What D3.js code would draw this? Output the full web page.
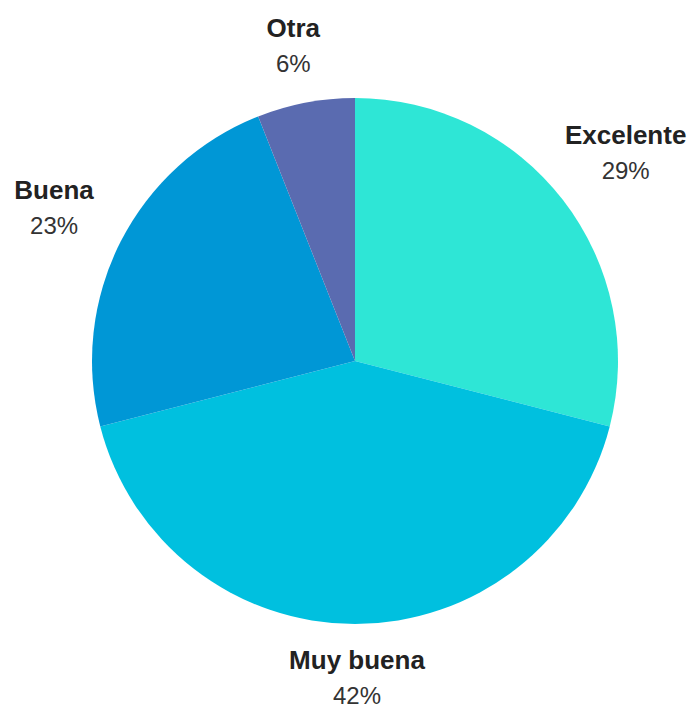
<!DOCTYPE html>
<html>
<head>
<meta charset="utf-8">
<script src="https://cdn.jsdelivr.net/npm/d3@7"></script>
<style>
  html, body { margin: 0; padding: 0; background: #ffffff; }
  svg { display: block; }
</style>
</head>
<body>
<svg id="chart" width="690" height="707"></svg>
<script>
// Rating distribution
const categories = ["Excelente", "Muy buena", "Buena", "Otra"];
const values = [29, 42, 23, 6];
const colors = ["#2ee6d6", "#00c0df", "#0097d6", "#5a6bb0"];

const width = 690, height = 707;
const cx = 355, cy = 361, radius = 263;

const svg = d3.select("#chart");
const g = svg.append("g").attr("transform", `translate(${cx},${cy})`);

const data = categories.map((c, i) => ({ name: c, value: values[i] }));

const pie = d3.pie().sort(null).value(d => d.value);
const arc = d3.arc().innerRadius(0).outerRadius(radius);
const color = d3.scaleOrdinal().domain(categories).range(colors);

const arcs = pie(data);

g.selectAll("path.slice")
  .data(arcs)
  .join("path")
  .attr("class", "slice")
  .attr("d", arc)
  .attr("fill", d => color(d.data.name));

// Labels outside the pie: name (bold) above the percentage
const labelRadius = 320;
const total = d3.sum(values);
const labels = g.selectAll("g.label")
  .data(arcs)
  .join("g")
  .attr("class", "label")
  .attr("transform", d => {
    const a = (d.startAngle + d.endAngle) / 2;
    const s = Math.sin(a), c = Math.cos(a);
    const x = s * (labelRadius + 20) + 2;
    const y = -c * labelRadius - Math.abs(s) * 8 - 7 - Math.max(0, c * s) * 10 + (c > 0.9 ? 2 : 0) - (c < -0.9 ? 2 : 0);
    return `translate(${x},${y})`;
  });

labels.append("text")
  .attr("text-anchor", "middle")
  .attr("y", -3)
  .attr("font-family", "'Liberation Sans', Arial, sans-serif")
  .attr("font-weight", "bold")
  .attr("font-size", 26)
  .attr("fill", "#222222")
  .text(d => d.data.name);

labels.append("text")
  .attr("text-anchor", "middle")
  .attr("y", 32)
  .attr("font-family", "'Liberation Sans', Arial, sans-serif")
  .attr("font-size", 24)
  .attr("fill", "#333333")
  .text(d => Math.round(d.data.value / total * 100) + "%");
</script>
</body>
</html>
